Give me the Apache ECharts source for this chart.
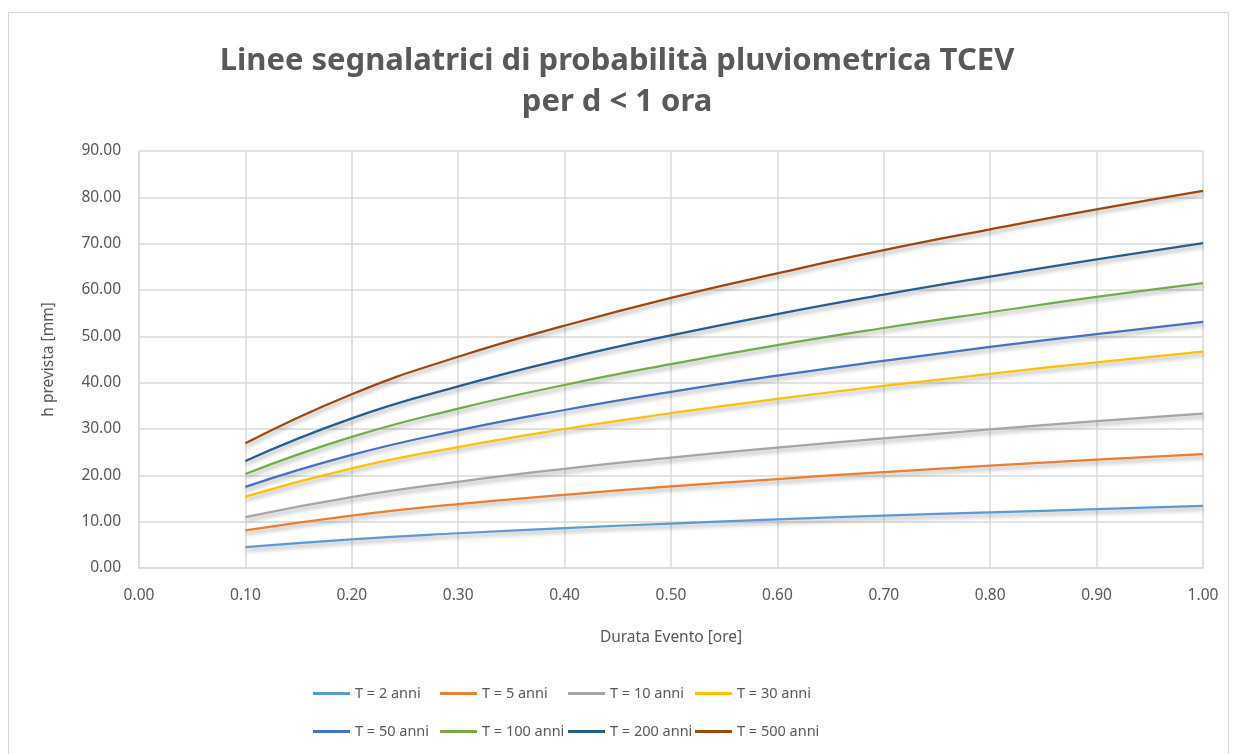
<!DOCTYPE html>
<html>
<head>
<meta charset="utf-8">
<script src="https://cdn.jsdelivr.net/npm/echarts@6/dist/echarts.min.js"></script>
<style>
html,body{margin:0;padding:0;background:#fff;}
#c{width:1234px;height:754px;}
#frame{position:absolute;left:8px;top:12px;width:1219px;height:760px;border:1.5px solid #D9D9D9;pointer-events:none;}
</style>
</head>
<body>
<div id="c"></div>
<div id="frame"></div>
<script>
const durations = [0.1, 0.2, 0.3, 0.4, 0.5, 0.6, 0.7, 0.8, 0.9, 1.0];
const seriesNames = ["T = 2 anni", "T = 5 anni", "T = 10 anni", "T = 30 anni",
                     "T = 50 anni", "T = 100 anni", "T = 200 anni", "T = 500 anni"];
const T2   = [4.5, 6.2, 7.5, 8.6, 9.6, 10.5, 11.3, 12.0, 12.7, 13.4];
const T5   = [8.1, 11.3, 13.8, 15.8, 17.6, 19.2, 20.7, 22.1, 23.4, 24.6];
const T10  = [11.0, 15.3, 18.6, 21.4, 23.8, 26.0, 28.0, 29.9, 31.7, 33.3];
const T30  = [15.4, 21.5, 26.1, 30.0, 33.4, 36.5, 39.3, 41.9, 44.4, 46.7];
const T50  = [17.5, 24.4, 29.7, 34.1, 38.0, 41.5, 44.7, 47.7, 50.5, 53.1];
const T100 = [20.3, 28.3, 34.4, 39.5, 44.0, 48.1, 51.8, 55.2, 58.5, 61.5];
const T200 = [23.1, 32.3, 39.2, 45.1, 50.2, 54.8, 59.0, 62.9, 66.6, 70.1];
const T500 = [26.9, 37.5, 45.6, 52.3, 58.3, 63.6, 68.6, 73.1, 77.4, 81.4];
const allValues = [T2, T5, T10, T30, T50, T100, T200, T500];
const colors = ["#5B9BD5", "#ED7D31", "#A5A5A5", "#FFC000", "#4472C4", "#70AD47", "#255E91", "#9E480E"];

const FONT = "Noto Sans";
const txt = "#595959";

const series = allValues.map((vals, i) => ({
  name: seriesNames[i],
  type: "line",
  smooth: true,
  symbol: "none",
  data: vals.map((v, k) => [durations[k], v]),
  lineStyle: {
    width: 2.25, color: colors[i],
    shadowColor: "rgba(0,0,0,0.35)", shadowBlur: 4, shadowOffsetY: 3, shadowOffsetX: 1
  },
  itemStyle: { color: colors[i] }
}));

const legendLefts = [308, 435, 563, 690];
const legendTops = [681, 719];
const legends = seriesNames.map((n, i) => ({
  left: legendLefts[i % 4],
  top: legendTops[Math.floor(i / 4)],
  itemWidth: 37,
  itemHeight: 3,
  icon: "rect",
  data: [n],
  textStyle: { fontFamily: FONT, fontSize: 14.5, color: txt }
}));

const option = {
  animation: false,
  color: colors,
  title: {
    text: "Linee segnalatrici di probabilità pluviometrica TCEV\nper d < 1 ora",
    left: "center",
    top: 36,
    textStyle: { fontFamily: FONT, fontSize: 31, fontWeight: "bold", color: txt, lineHeight: 41 }
  },
  legend: legends,
  grid: { left: 139, right: 31, top: 151, bottom: 186 },
  xAxis: {
    type: "value", min: 0, max: 1, interval: 0.1,
    name: "Durata Evento [ore]", nameLocation: "middle", nameGap: 62,
    nameTextStyle: { fontFamily: FONT, fontSize: 15.5, color: txt },
    axisLine: { lineStyle: { color: "#D9D9D9", width: 1.5 } },
    axisTick: { show: false },
    axisLabel: { fontFamily: FONT, fontSize: 15.5, color: txt, margin: 20,
                 formatter: v => v.toFixed(2) },
    splitLine: { show: true, lineStyle: { color: "#D9D9D9", width: 1.5 } }
  },
  yAxis: {
    type: "value", min: 0, max: 90, interval: 10,
    name: "h prevista [mm]", nameLocation: "middle", nameGap: 82, nameRotate: 90,
    nameTextStyle: { fontFamily: FONT, fontSize: 15.5, color: txt },
    axisLine: { show: true, lineStyle: { color: "#D9D9D9", width: 1.5 } },
    axisTick: { show: false },
    axisLabel: { fontFamily: FONT, fontSize: 15.5, color: txt, margin: 18,
                 formatter: v => v.toFixed(2) },
    splitLine: { show: true, lineStyle: { color: "#D9D9D9", width: 1.5 } }
  },
  series: series
};

const chart = echarts.init(document.getElementById("c"));
chart.setOption(option);
</script>
</body>
</html>
